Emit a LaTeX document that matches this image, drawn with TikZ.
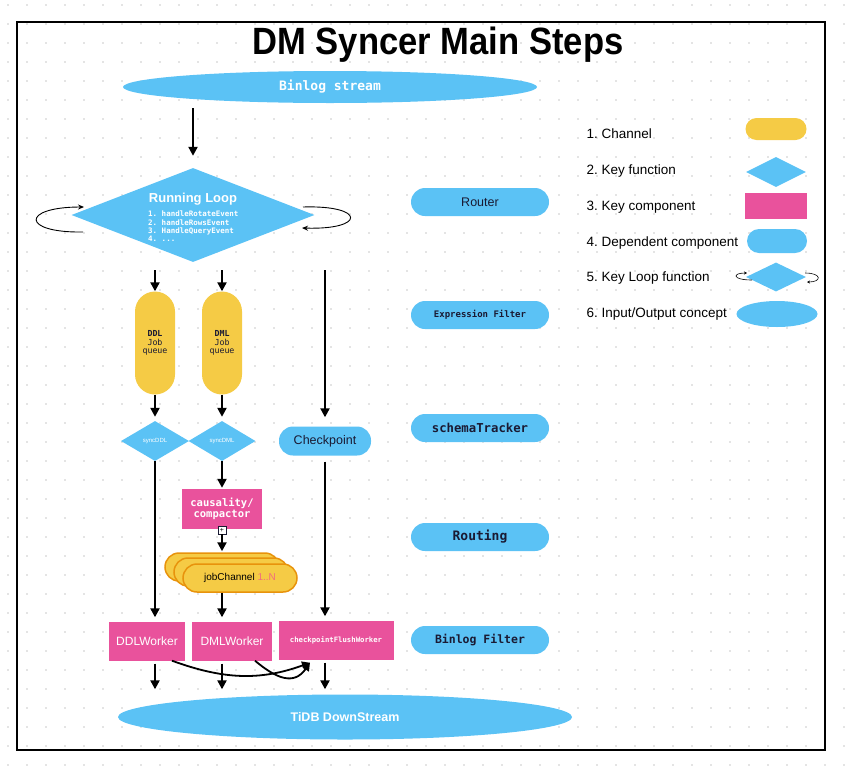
\documentclass[tikz,border=0pt]{standalone}
\usepackage{fontspec}
\setmainfont{Liberation Sans}
\setmonofont{DejaVu Sans Mono}
\usetikzlibrary{shapes.geometric,arrows.meta}
\definecolor{skyblue}{HTML}{5BC2F5}
\definecolor{chanyellow}{HTML}{F5CB45}
\definecolor{chanedge}{HTML}{E8930C}
\definecolor{keypink}{HTML}{E9529C}
\definecolor{inkblue}{HTML}{1A1A33}
\definecolor{griddot}{HTML}{C8C8C8}
\definecolor{countred}{HTML}{F26D7D}
\newcommand{\fsz}[2]{\fontsize{#1}{#2}\selectfont}
\frenchspacing
\tikzset{
  flow/.style={-{Triangle[length=9pt,width=9pt]},line width=2.2pt},
  loopflow/.style={-{Stealth[length=6pt,width=5pt]},line width=0.9pt},
  keyfun/.style={diamond,fill=skyblue,inner sep=0pt,text=white},
  keycomp/.style={rectangle,fill=keypink,inner sep=0pt,text=white},
  depcomp/.style={rectangle,fill=skyblue,inner sep=0pt,text=inkblue,rounded corners=#1},
  iocon/.style={ellipse,fill=skyblue,inner sep=0pt,text=white},
  channel/.style={rectangle,fill=chanyellow,inner sep=0pt,rounded corners=#1},
  jobchan/.style={channel=14pt,draw=chanedge,line width=1.5pt,minimum width=114pt,minimum height=28pt},
  stepname/.style={depcomp=14pt,minimum width=138pt,minimum height=28pt},
  legend/.style={anchor=west,font=\fsz{13.5}{16}}
}
\begin{document}
\begin{tikzpicture}[x=1pt,y=-1pt]
\useasboundingbox (0,0) rectangle (845,766);
\foreach \i in {0,...,44}
  \foreach \j in {0,...,40}
    \fill[griddot] (8+19*\i,5+19*\j) circle (0.9pt);
\draw[line width=2.5pt] (17,22) rectangle (825,750);
%
\node[font=\fsz{38}{42}\bfseries] (title) at (438,45) {\scalebox{0.91}[1]{DM Syncer Main Steps}};
\node[iocon,minimum width=414pt,minimum height=32pt,font=\fsz{13}{15}\ttfamily\bfseries] (binlog) at (330,87) {Binlog stream};
%
\node[keyfun,minimum width=243pt,minimum height=94pt] (loop) at (193,215) {};
\node[font=\fsz{13}{15}\bfseries,text=white] (looptitle) at (193,199) {Running Loop};
\node[font=\fsz{7.5}{8.3}\ttfamily\bfseries,text=white,align=left,anchor=north west,inner sep=0pt] (loopsteps) at (148,211)
  {1. handleRotateEvent\\2. handleRowsEvent\\3. HandleQueryEvent\\4. ...};
%
\node[channel=20pt,minimum width=40pt,minimum height=103pt,align=center,font=\fsz{8.3}{8.5}\ttfamily,text=inkblue] (ddlq) at (155,343) {\textbf{DDL}\\Job\\queue};
\node[channel=20pt,minimum width=40pt,minimum height=103pt,align=center,font=\fsz{8.3}{8.5}\ttfamily,text=inkblue] (dmlq) at (222,343) {\textbf{DML}\\Job\\queue};
\node[keyfun,minimum width=68pt,minimum height=40pt,font=\fsz{6}{7}] (sddl) at (155,441) {syncDDL};
\node[keyfun,minimum width=67pt,minimum height=40pt,font=\fsz{6}{7}] (sdml) at (222,441) {syncDML};
\node[depcomp=14pt,minimum width=92pt,minimum height=29pt,font=\fsz{12.5}{14}] (ckpt) at (325,441) {Checkpoint};
%
\node[keycomp,minimum width=80pt,minimum height=40pt,align=center,font=\fsz{10.5}{11.5}\ttfamily\bfseries] (causal) at (222,509) {causality/\\compactor};
\node[draw=inkblue,fill=white,minimum size=8pt,inner sep=0pt,line width=0.6pt,font=\fsz{7}{7}] (handle) at (222,530) {+};
\node[jobchan] (chanA) at (222,567) {};
\node[jobchan] (chanB) at (231,572) {};
\node[jobchan,font=\fsz{10}{12}] (chanC) at (240,578) {jobChannel \textcolor{countred}{1..N}};
%
\node[keycomp,minimum width=76pt,minimum height=39pt,font=\fsz{12}{14}] (ddlw) at (147,641) {DDLWorker};
\node[keycomp,minimum width=80pt,minimum height=39pt,font=\fsz{12}{14}] (dmlw) at (232,641) {DMLWorker};
\node[keycomp,minimum width=115pt,minimum height=39pt,font=\fsz{7.3}{8}\ttfamily\bfseries] (cfw) at (336,640) {checkpointFlushWorker};
\node[iocon,minimum width=454pt,minimum height=45pt,font=\fsz{12.5}{14}\bfseries] (down) at (345,717) {TiDB DownStream};
%
\node[stepname,font=\fsz{12.5}{14}] (router) at (480,202) {Router};
\node[stepname,font=\fsz{9}{11}\ttfamily\bfseries] (exprf) at (480,315) {Expression Filter};
\node[stepname,font=\fsz{12.3}{14}\ttfamily\bfseries] (schema) at (480,428) {schemaTracker};
\node[stepname,font=\fsz{13}{15}\ttfamily\bfseries] (routing) at (480,537) {Routing};
\node[stepname,font=\fsz{11.5}{13}\ttfamily\bfseries] (binf) at (480,640) {Binlog Filter};
%
\node[legend] (lt1) at (583,134) {1. Channel};
\node[legend] (lt2) at (583,171) {2. Key function};
\node[legend] (lt3) at (583,207) {3. Key component};
\node[legend] (lt4) at (583,243) {4. Dependent component};
\node[legend] (lt5) at (583,278) {5. Key Loop function};
\node[legend] (lt6) at (583,314) {6. Input/Output concept};
\node[channel=11pt,minimum width=61pt,minimum height=22pt] (lchan) at (776,129) {};
\node[keyfun,minimum width=60pt,minimum height=30pt] (lkey) at (776,172) {};
\node[keycomp,minimum width=62pt,minimum height=26pt] (lcomp) at (776,206) {};
\node[depcomp=12pt,minimum width=60pt,minimum height=24pt] (ldep) at (777,241) {};
\node[keyfun,minimum width=60pt,minimum height=29pt] (lloop) at (776,277) {};
\node[iocon,minimum width=81pt,minimum height=26pt] (lio) at (777,314) {};
\draw[-{Stealth[length=3pt,width=3pt]},line width=0.6pt] (752,280) .. controls (732,280) and (732,273) .. (747,273);
\draw[-{Stealth[length=3pt,width=3pt]},line width=0.6pt] (805,273) .. controls (822,273) and (822,282) .. (807,282);
%
\draw[loopflow] (83,232) .. controls (21,233) and (21,207) .. (84,207);
\draw[loopflow] (303,207) .. controls (366,205) and (366,230) .. (302,228);
%
\draw[flow,shorten <=5pt,shorten >=12pt] (binlog.south -| loop) -- (loop.north);
\draw[flow,shorten <=8pt] (loop.south -| ddlq) -- (ddlq.north);
\draw[flow,shorten <=8pt] (loop.south -| dmlq) -- (dmlq.north);
\draw[flow,shorten <=8pt,shorten >=9pt] (loop.south -| ckpt) -- (ckpt.north);
\draw[flow,shorten >=4pt] (ddlq.south) -- (sddl.north);
\draw[flow,shorten >=4pt] (dmlq.south) -- (sdml.north);
\draw[flow,shorten >=4pt] (sddl.south) -- (ddlw.north -| sddl);
\draw[flow,shorten >=1pt] (sdml.south) -- (causal.north);
\draw[flow,shorten <=6pt,shorten >=4pt] (ckpt.south) -- (cfw.north -| ckpt);
\draw[flow,shorten >=1pt] (handle.south) -- (chanA.north);
\draw[flow,shorten >=4pt] (chanC.south -| causal) -- (dmlw.north -| causal);
\draw[flow,shorten <=3pt,shorten >=5pt] (ddlw.south -| sddl) -- (sddl |- down.north);
\draw[flow,shorten <=3pt,shorten >=5pt] (dmlw.south -| sdml) -- (sdml |- down.north);
\draw[flow,shorten <=3pt,shorten >=5pt] (cfw.south -| ckpt) -- (ckpt |- down.north);
\draw[-{Triangle[length=8pt,width=8pt]},line width=1.8pt] ([xshift=25pt]ddlw.south) to[out=-20,in=200] ([xshift=-26pt,yshift=-3pt]cfw.south);
\draw[-{Triangle[length=8pt,width=8pt]},line width=1.8pt] ([xshift=23pt]dmlw.south) to[out=-40,in=235,looseness=1.3] ([xshift=-26pt,yshift=-3pt]cfw.south);
\end{tikzpicture}
\end{document}
